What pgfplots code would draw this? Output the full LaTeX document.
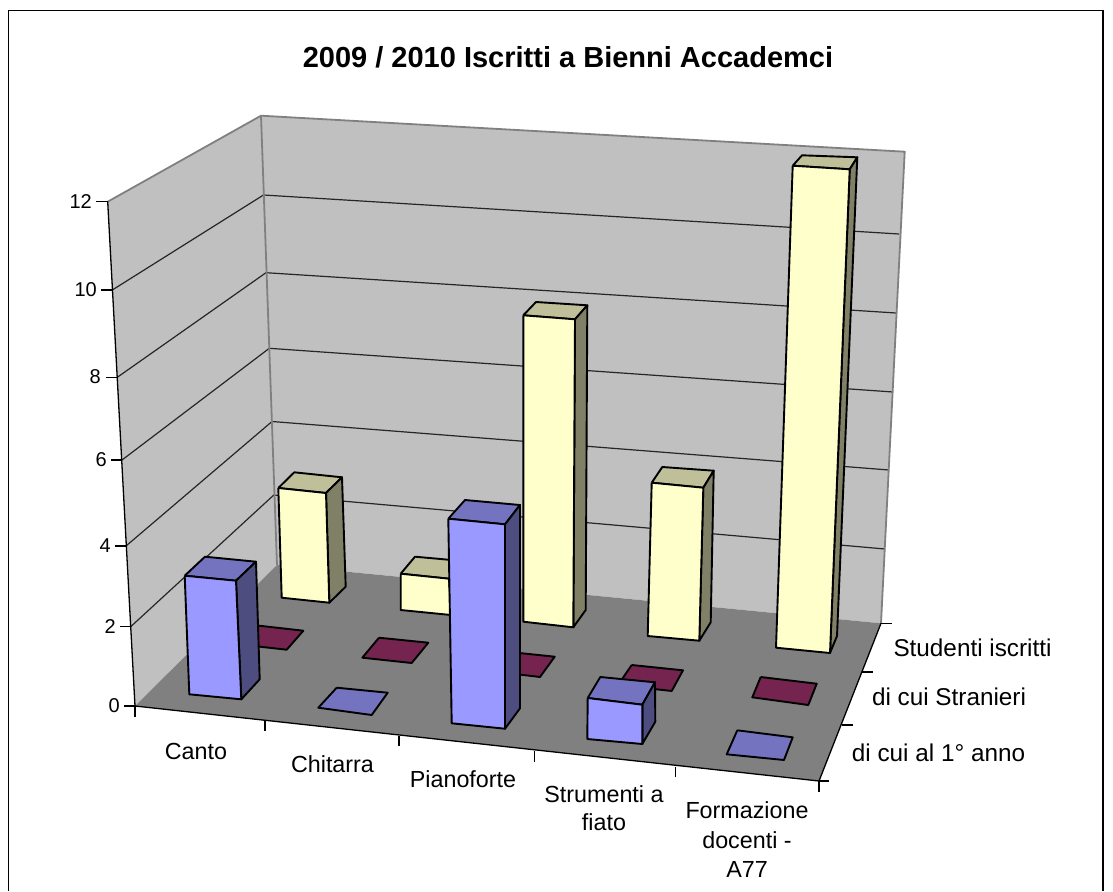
\documentclass[border=0pt]{standalone}
\usepackage{fontspec}
\setmainfont{Liberation Sans}
\usepackage{pgfplots}
\pgfplotsset{compat=1.18}
\definecolor{wall}{HTML}{C0C0C0}
\definecolor{floorc}{HTML}{808080}
\definecolor{yfront}{HTML}{FFFFCC}
\definecolor{ytop}{HTML}{BFBF99}
\definecolor{yside}{HTML}{808066}
\definecolor{bfront}{HTML}{9999FF}
\definecolor{btop}{HTML}{7373BF}
\definecolor{bside}{HTML}{4D4D80}
\definecolor{maroon}{HTML}{74244F}
\tikzset{
  face/.style={draw=black, line width=1.9pt, line join=round, fill=#1},
  gridl/.style={draw=black!85, line width=1.2pt},
  edge/.style={draw=black, line width=1.3pt},
  wedge/.style={draw=floorc, line width=1.8pt},
  lab/.style={font=\fontsize{23.3}{29}\selectfont, align=center, inner sep=0pt},
  rlab/.style={font=\fontsize{24.3}{29}\selectfont, inner sep=0pt},
  ylab/.style={font=\fontsize{20}{24}\selectfont, anchor=east, inner sep=0pt},
}
\begin{document}
\begin{tikzpicture}
\begin{axis}[
  hide axis, scale only axis, width=1113pt, height=891pt,
  xmin=0, xmax=1113, ymin=0, ymax=891, y dir=reverse,
]
% page background, keeps the bounding box at the full size
\addplot[draw=none, fill=white] coordinates {(0,0) (1113,0) (1113,891) (0,891) (0,0)};
% chart frame
\addplot[draw=black, line width=1.5pt] coordinates {(8.5,891) (8.5,10.5) (1103,10.5) (1103,891)};
% walls and floor
\addplot[draw=none, fill=wall] coordinates {(107.7,201.7) (261,115.7) (277,565) (135,706) (107.7,201.7)};
\addplot[draw=none, fill=wall] coordinates {(261,115.7) (904.7,151.7) (881,623.3) (277,565) (261,115.7)};
\addplot[draw=none, fill=floorc] coordinates {(135,706) (277,565) (881,623.3) (819,781) (135,706)};
% gridlines: left wall, back wall
\addplot[gridl] coordinates {(112.3,290) (263.5,195) (899,234)};
\addplot[gridl] coordinates {(117.3,377.3) (266,272.7) (896,313)};
\addplot[gridl] coordinates {(122,460) (269.3,348.3) (893,392)};
\addplot[gridl] coordinates {(126,546) (272,421.5) (889,470)};
\addplot[gridl] coordinates {(130.7,626.7) (273.8,495) (885,549)};
% wall edges
\addplot[wedge] coordinates {(107.7,201.7) (261,115.7) (904.7,151.7) (881,623.3)};
\addplot[wedge] coordinates {(261,115.7) (277,565)};
% axis lines
\addplot[edge] coordinates {(107.7,201.7) (135,706) (819,781) (881,623.3)};
% y ticks
\addplot[edge] coordinates {(96,201.7) (107.7,201.7)};
\addplot[edge] coordinates {(101,290) (112.3,290)};
\addplot[edge] coordinates {(105.5,377.3) (117.3,377.3)};
\addplot[edge] coordinates {(111,460) (122,460)};
\addplot[edge] coordinates {(115,546) (126,546)};
\addplot[edge] coordinates {(120,626.7) (130.7,626.7)};
\addplot[edge] coordinates {(124,706) (135,706)};
% category ticks
\addplot[edge] coordinates {(135,706) (135,717)};
\addplot[edge] coordinates {(265,721) (265,731)};
\addplot[edge] coordinates {(399,736) (399,746)};
\addplot[edge] coordinates {(534.3,751) (534.3,762)};
\addplot[edge] coordinates {(675.7,767) (675.7,777)};
\addplot[edge] coordinates {(819,781) (819,792)};
% series ticks
\addplot[edge] coordinates {(819,781) (829.3,781)};
\addplot[edge] coordinates {(841.7,725) (853,725)};
\addplot[edge] coordinates {(861.7,672) (873,672)};
\addplot[edge] coordinates {(881,623.3) (892,623.3)};

% Studenti iscritti, Canto 3
\addplot[face=ytop] coordinates {(278.3,488) (294.3,472.3) (342,477.3) (326,493) (278.3,488)};
\addplot[face=yside] coordinates {(326,493) (342,477.3) (345.7,586.7) (329.3,602.7) (326,493)};
\addplot[face=yfront] coordinates {(278.3,488) (326,493) (329.3,602.7) (281.7,597.7) (278.3,488)};
% Studenti iscritti, Chitarra 1
\addplot[face=ytop] coordinates {(400.7,573.7) (415,556.7) (463,561) (449,578.7) (400.7,573.7)};
\addplot[face=yside] coordinates {(449,578.7) (463,561) (466,600) (451,615) (449,578.7)};
\addplot[face=yfront] coordinates {(400.7,573.7) (449,578.7) (451,615) (400.7,610) (400.7,573.7)};
% Studenti iscritti, Pianoforte 8
\addplot[face=ytop] coordinates {(523.3,315.3) (536,302) (587.3,305.3) (575,319.3) (523.3,315.3)};
\addplot[face=yside] coordinates {(575,319.3) (587.3,305.3) (585.7,610) (573.3,627.3) (575,319.3)};
\addplot[face=yfront] coordinates {(523.3,315.3) (575,319.3) (573.3,627.3) (523.3,621.7) (523.3,315.3)};
% Studenti iscritti, Strumenti a fiato 4
\addplot[face=ytop] coordinates {(651.7,482.7) (662.3,467) (713.7,470.7) (703.3,487.7) (651.7,482.7)};
\addplot[face=yside] coordinates {(703.3,487.7) (713.7,470.7) (710.7,622.3) (699.3,640.7) (703.3,487.7)};
\addplot[face=yfront] coordinates {(651.7,482.7) (703.3,487.7) (699.3,640.7) (647.7,636) (651.7,482.7)};
% Studenti iscritti, Formazione docenti 12
\addplot[face=ytop] coordinates {(792.7,165.7) (802,155.3) (857.3,157.3) (849.7,169.3) (792.7,165.7)};
\addplot[face=yside] coordinates {(849.7,169.3) (857.3,157.3) (837,636) (830,653) (849.7,169.3)};
\addplot[face=yfront] coordinates {(792.7,165.7) (849.7,169.3) (830,653) (776,647.7) (792.7,165.7)};

% di cui Stranieri, all 0
\addplot[face=maroon] coordinates {(253,625) (303.3,630.7) (286.7,649.7) (236,644) (253,625)};
\addplot[face=maroon] coordinates {(379,637.7) (428.3,642.7) (411.7,663) (362.3,657.7) (379,637.7)};
\addplot[face=maroon] coordinates {(505,651.5) (554.7,656.7) (540,677) (490,671) (505,651.5)};
\addplot[face=maroon] coordinates {(631.7,665) (683,670.3) (671.7,691) (618,685) (631.7,665)};
\addplot[face=maroon] coordinates {(760.7,677) (816.7,683.7) (808.3,705) (752.3,697.3) (760.7,677)};

% di cui al 1 anno, Canto 3
\addplot[face=btop] coordinates {(184.7,575.7) (205,556.7) (256,561.7) (236,580.7) (184.7,575.7)};
\addplot[face=bside] coordinates {(236,580.7) (256,561.7) (259.7,679.3) (241.3,699.3) (236,580.7)};
\addplot[face=bfront] coordinates {(184.7,575.7) (236,580.7) (241.3,699.3) (189.3,694.3) (184.7,575.7)};
% Chitarra 0
\addplot[face=btop] coordinates {(336.7,687.7) (387.7,692.7) (371.7,715) (318.3,707.7) (336.7,687.7)};
% Pianoforte 5
\addplot[face=btop] coordinates {(448.3,518.7) (465,500) (520,505) (505,524.3) (448.3,518.7)};
\addplot[face=bside] coordinates {(505,524.3) (520,505) (520,708.3) (505,728.7) (505,524.3)};
\addplot[face=bfront] coordinates {(448.3,518.7) (505,524.3) (505,728.7) (451.7,723.3) (448.3,518.7)};
% Strumenti a fiato 1
\addplot[face=btop] coordinates {(587.7,698) (600.3,677) (655,682.3) (642.3,704.7) (587.7,698)};
\addplot[face=bside] coordinates {(642.3,704.7) (655,682.3) (655.3,721.7) (642.3,744) (642.3,704.7)};
\addplot[face=bfront] coordinates {(587.7,698) (642.3,704.7) (642.3,744) (587.3,739) (587.7,698)};
% Formazione docenti 0
\addplot[face=btop] coordinates {(737.3,730.3) (792.7,737.3) (784,760) (726.7,754.3) (737.3,730.3)};

% title and labels
\node[font=\bfseries\fontsize{29}{34}\selectfont] at (axis cs:568,57) {2009 / 2010 Iscritti a Bienni Accademci};
\node[ylab] at (axis cs:92,201.5) {12};
\node[ylab] at (axis cs:97,290) {10};
\node[ylab] at (axis cs:101,377) {8};
\node[ylab] at (axis cs:107,460) {6};
\node[ylab] at (axis cs:111,546) {4};
\node[ylab] at (axis cs:116,626.5) {2};
\node[ylab] at (axis cs:120,706) {0};
\node[lab] at (axis cs:196,751) {Canto};
\node[lab] at (axis cs:332.5,764) {Chitarra};
\node[lab] at (axis cs:463,779) {Pianoforte};
\node[lab, font=\fontsize{23.3}{28}\selectfont] at (axis cs:604,808) {Strumenti a\\fiato};
\node[lab, font=\fontsize{23.3}{29.5}\selectfont] at (axis cs:747,840) {Formazione\\docenti -\\A77};
\node[rlab] at (axis cs:972.5,647.7) {Studenti iscritti};
\node[rlab] at (axis cs:949,697) {di cui Stranieri};
\node[rlab] at (axis cs:938.5,752.7) {di cui al 1° anno};
\end{axis}
\end{tikzpicture}
\end{document}
